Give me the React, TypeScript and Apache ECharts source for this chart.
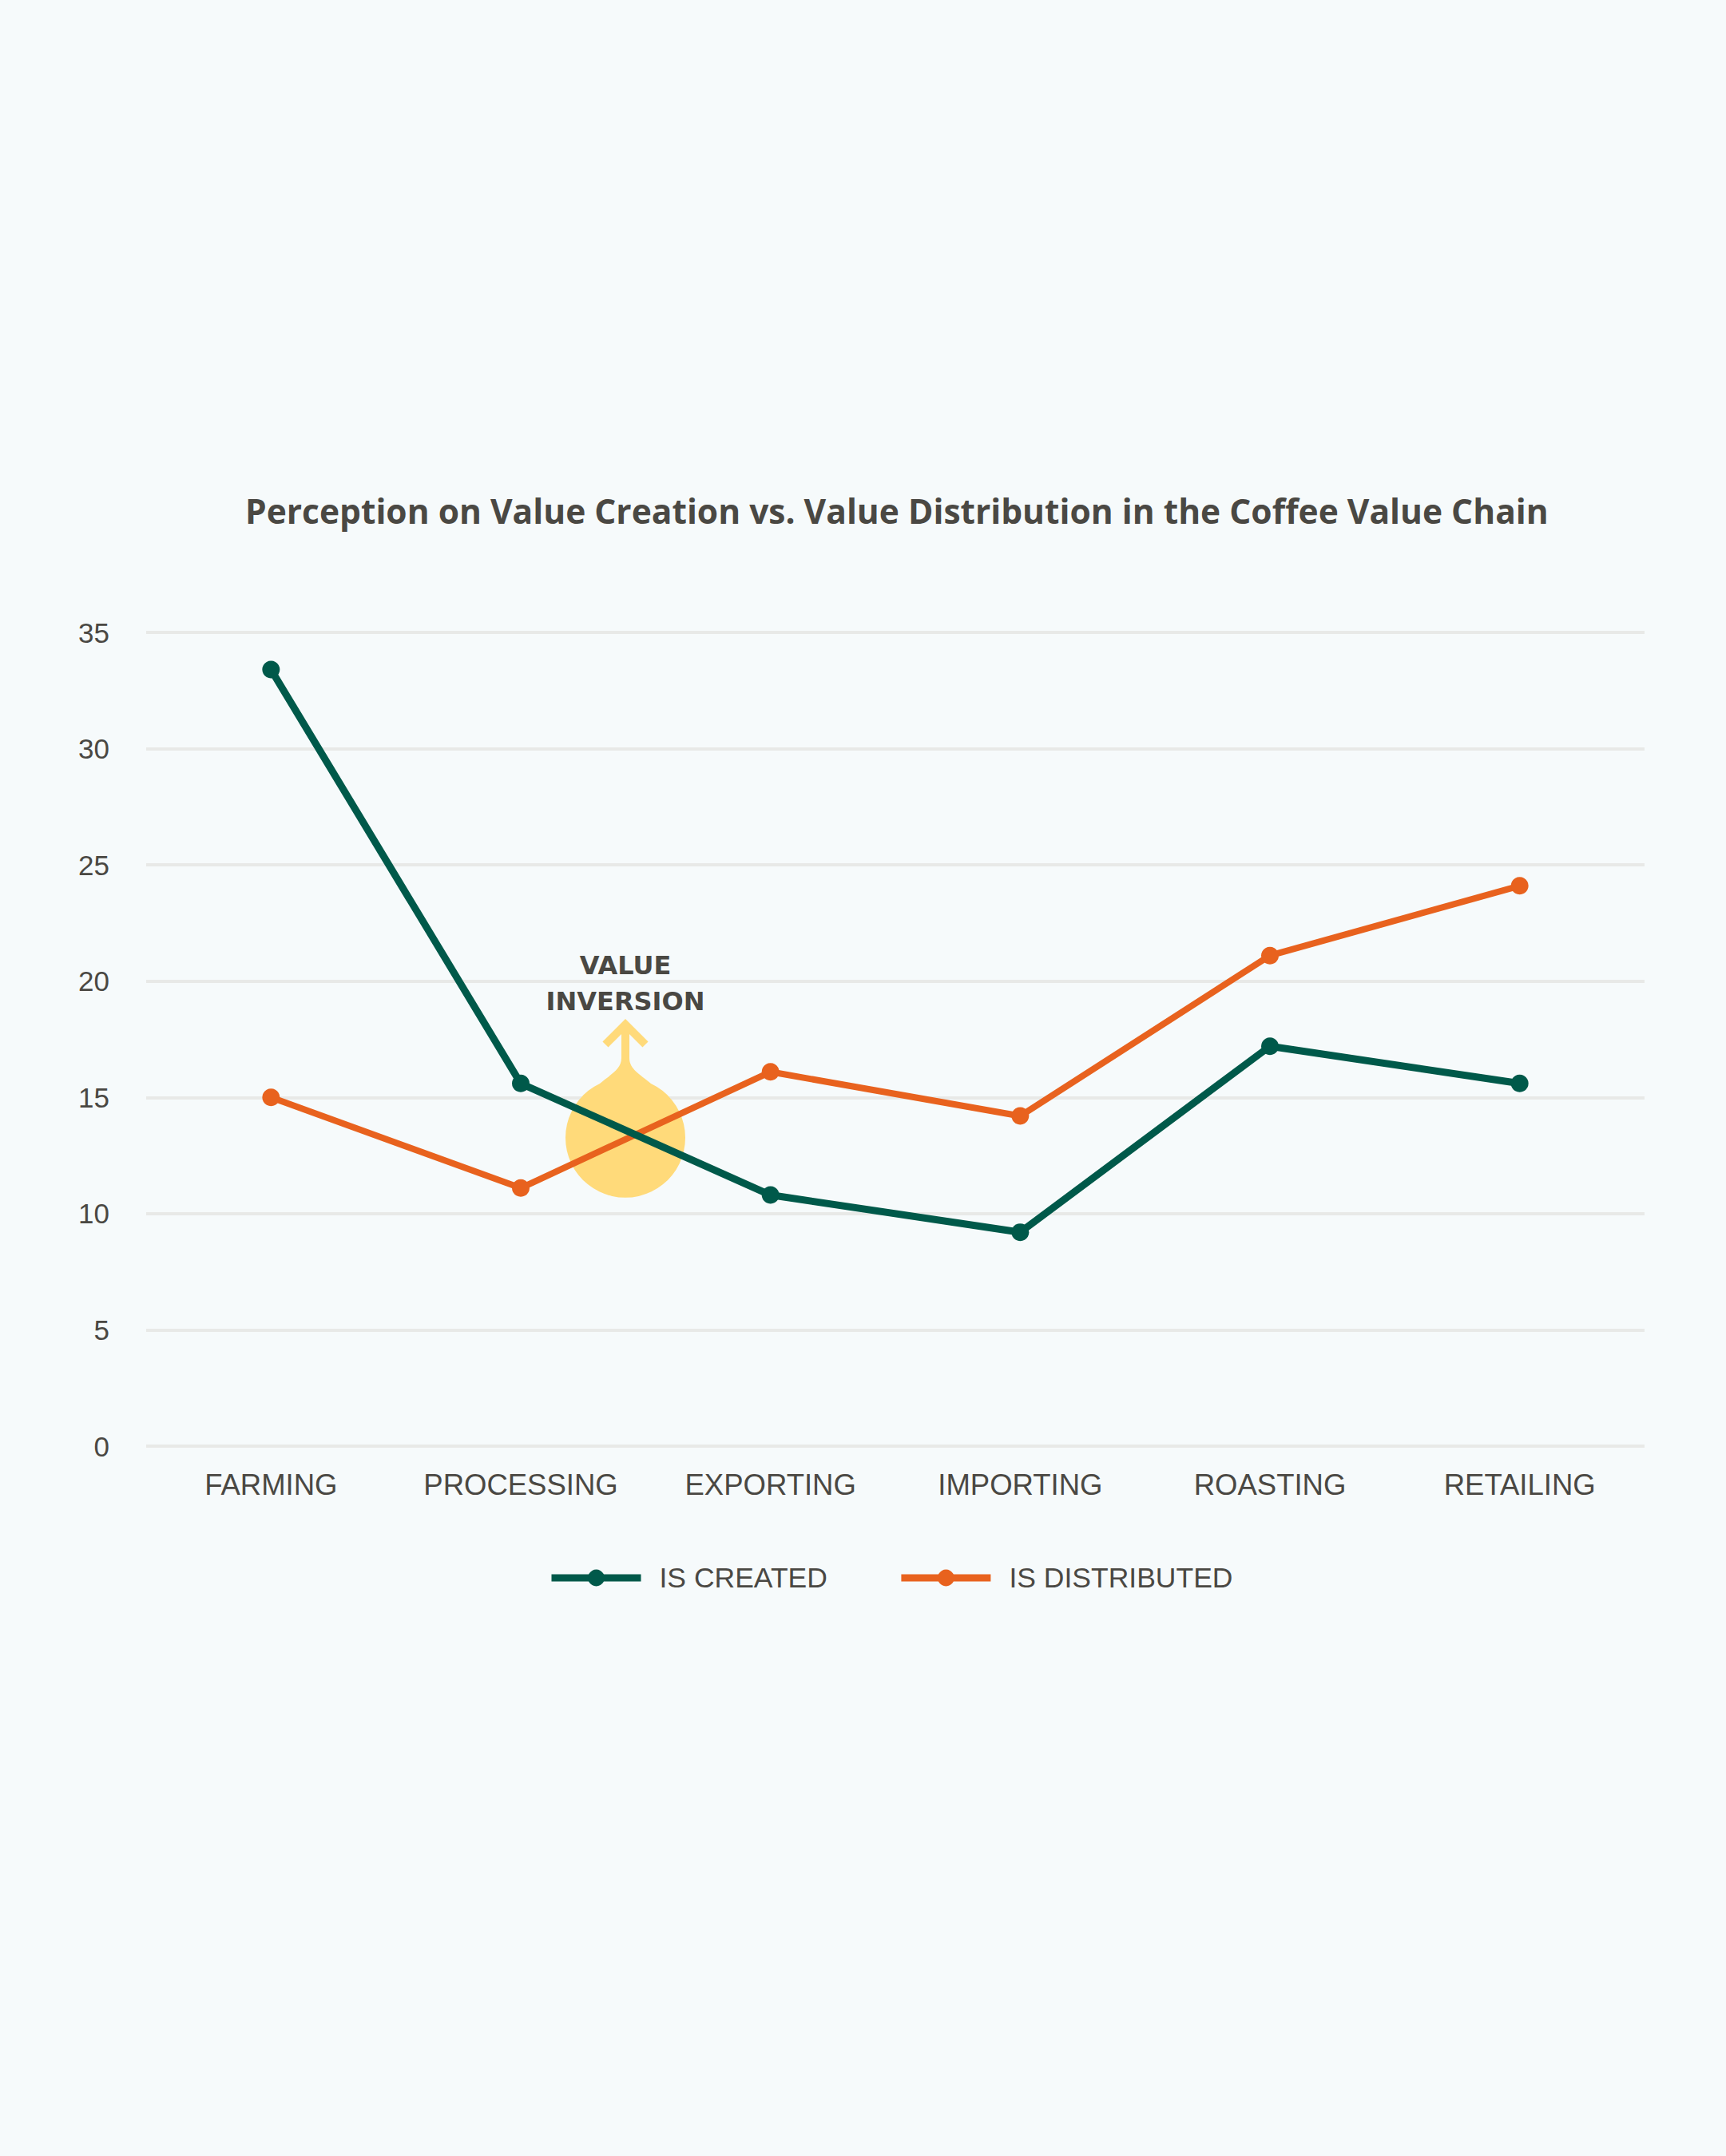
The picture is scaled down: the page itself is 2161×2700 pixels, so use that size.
import React, { useEffect, useRef } from "react";
import * as echarts from "echarts";

const categories = ["FARMING", "PROCESSING", "EXPORTING", "IMPORTING", "ROASTING", "RETAILING"];
const isCreated = [33.4, 15.6, 10.8, 9.2, 17.2, 15.6];
const isDistributed = [15.0, 11.1, 16.1, 14.2, 21.1, 24.1];
const seriesNames = ["IS CREATED", "IS DISTRIBUTED"];
const titleText = "Perception on Value Creation vs. Value Distribution in the Coffee Value Chain";
const annotationLines = ["VALUE", "INVERSION"];

const GREEN = "#00594a";
const ORANGE = "#e8621e";
const YELLOW = "#ffda7a";
const TEXT = "#4a4843";
const BG = "#f6fafb";
const LABEL_FONT = "Liberation Sans";

echarts.graphic.registerShape(
  "blob",
  echarts.graphic.extendPath(
    "M -5 -140 L -5 -100 C -5 -86 -18 -80 -32 -68 A 75 75 0 1 0 32 -68 C 18 -80 5 -86 5 -100 L 5 -140 Z",
    {}
  ) as any
);

export default function App() {
  const ref = useRef<HTMLDivElement>(null);
  useEffect(() => {
    document.body.style.margin = "0";
    document.body.style.background = BG;
    if (!ref.current) return;
    const chart = echarts.init(ref.current, undefined, { renderer: "svg" });
    chart.setOption({
      animation: false,
      backgroundColor: BG,
      title: {
        text: titleText,
        left: 302,
        top: 613,
        textStyle: { fontFamily: "Open Sans", fontWeight: "bold", fontSize: 42.5, color: TEXT },
      },
      legend: {
        data: seriesNames,
        left: 681,
        top: 1953,
        itemWidth: 112,
        itemHeight: 26,
        itemGap: 88,
        lineStyle: { width: 9 },
        textStyle: {
          fontFamily: LABEL_FONT,
          fontSize: 35.5,
          color: TEXT,
          padding: [0, 0, 0, 18],
        },
      },
      grid: { left: 183, right: 102, top: 792, bottom: 889, containLabel: false },
      xAxis: {
        type: "category",
        data: categories,
        boundaryGap: true,
        axisLine: { show: false },
        axisTick: { show: false },
        axisLabel: {
          interval: 0,
          hideOverlap: false,
          margin: 30,
          fontFamily: LABEL_FONT,
          fontSize: 36.5,
          color: TEXT,
        },
        splitLine: { show: false },
      },
      yAxis: {
        type: "value",
        min: 0,
        max: 35,
        interval: 5,
        axisLine: { show: false },
        axisTick: { show: false },
        axisLabel: { margin: 46, fontFamily: LABEL_FONT, fontSize: 35, color: TEXT },
        splitLine: { lineStyle: { color: "#e8e9e7", width: 4 } },
      },
      graphic: [
        {
          type: "blob",
          x: 783,
          y: 1425,
          z: 1,
          silent: true,
          style: { fill: YELLOW },
        },
        {
          type: "polyline",
          z: 1,
          silent: true,
          shape: { points: [[758, 1308], [783, 1283], [808, 1308]] },
          style: { stroke: YELLOW, lineWidth: 10, fill: "none" },
        },
        {
          type: "text",
          x: 783,
          y: 1209,
          z: 1,
          style: {
            text: annotationLines[0],
            fill: TEXT,
            font: "bold 32px 'DejaVu Sans'",
            align: "center",
            verticalAlign: "middle",
          },
        },
        {
          type: "text",
          x: 783,
          y: 1254,
          z: 1,
          style: {
            text: annotationLines[1],
            fill: TEXT,
            font: "bold 32px 'DejaVu Sans'",
            align: "center",
            verticalAlign: "middle",
          },
        },
      ],
      series: [
        {
          name: seriesNames[0],
          type: "line",
          data: isCreated,
          symbol: "circle",
          symbolSize: 22,
          z: 3,
          itemStyle: { color: GREEN },
          lineStyle: { color: GREEN, width: 9 },
        },
        {
          name: seriesNames[1],
          type: "line",
          data: isDistributed,
          symbol: "circle",
          symbolSize: 22,
          z: 2,
          itemStyle: { color: ORANGE },
          lineStyle: { color: ORANGE, width: 8 },
        },
      ],
    });
    return () => chart.dispose();
  }, []);
  return <div ref={ref} style={{ width: 2161, height: 2700 }} />;
}
